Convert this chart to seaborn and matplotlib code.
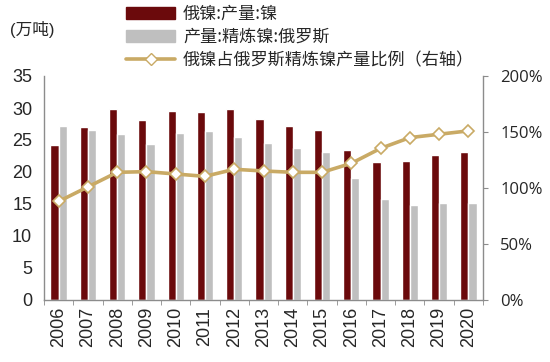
import matplotlib
matplotlib.use("Agg")
import matplotlib.pyplot as plt
import matplotlib.patches as mpatches
import matplotlib.lines as mlines
from matplotlib.ticker import FuncFormatter, MultipleLocator
import seaborn as sns
import pandas as pd
import numpy as np

# data
years = [str(y) for y in range(2006, 2021)]
nornickel_ni = [24.2, 27.0, 29.8, 28.1, 29.5, 29.3, 29.8, 28.3, 27.2, 26.5, 23.4, 21.6, 21.7, 22.7, 23.2]
russia_refined = [27.2, 26.5, 25.9, 24.3, 26.1, 26.4, 25.4, 24.5, 23.8, 23.1, 19.1, 15.8, 14.9, 15.2, 15.2]
share = [0.88, 1.01, 1.14, 1.146, 1.125, 1.104, 1.167, 1.152, 1.14, 1.14, 1.22, 1.354, 1.45, 1.48, 1.51]

name_a = "俄镍:产量:镍"
name_b = "产量:精炼镍:俄罗斯"
name_c = "俄镍占俄罗斯精炼镍产量比例（右轴）"

c_red = "#6B0A0C"
c_gray = "#BFBFBF"
c_gold = "#C9AA65"
c_spine = "#8C8C8C"

sns.set_style("white")
plt.rcParams["font.family"] = ["Liberation Sans", "Noto Sans CJK SC", "DejaVu Sans"]

df = pd.DataFrame({
    "year": years * 2,
    "value": nornickel_ni + russia_refined,
    "series": [name_a] * len(years) + [name_b] * len(years),
})

fig = plt.figure(figsize=(5.5, 3.62), dpi=100)
ax = fig.add_axes([44 / 550, 62 / 362, 439 / 550, 224 / 362])

sns.barplot(data=df, x="year", y="value", hue="series", palette=[c_red, c_gray],
            width=0.56, gap=0, ax=ax, legend=False, saturation=1)
ax.set_xlim(-0.5, len(years) - 0.5)
ax.set_ylim(0, 35)
ax.yaxis.set_major_locator(MultipleLocator(5))
ax.set_xlabel("")
ax.set_ylabel("")

# right axis share line
ax2 = ax.twinx()
sns.lineplot(x=np.arange(len(years)), y=share, ax=ax2, color=c_gold, linewidth=2.6,
             marker="D", markersize=6.5, markerfacecolor="white",
             markeredgecolor=c_gold, markeredgewidth=1.2)
ax2.set_ylim(0, 2.0)
ax2.yaxis.set_major_locator(MultipleLocator(0.5))
ax2.yaxis.set_major_formatter(FuncFormatter(lambda v, p: f"{v * 100:.0f}%"))

for a in (ax, ax2):
    for s in a.spines.values():
        s.set_visible(False)
ax.spines["left"].set_visible(True)
ax.spines["bottom"].set_visible(True)
ax2.spines["right"].set_visible(True)
for s in (ax.spines["left"], ax.spines["bottom"], ax2.spines["right"]):
    s.set_color(c_spine)
    s.set_linewidth(1.0)

# x ticks: labels at centers, tick marks at category borders
ax.set_xticks(np.arange(len(years)))
ax.set_xticklabels(years, rotation=90, fontsize=13)
ax.set_xticks(np.arange(-0.5, len(years)), minor=True)
ax.tick_params(axis="x", which="major", length=0, pad=5)
ax.tick_params(axis="x", which="minor", length=3.5, color=c_spine, direction="out", bottom=True)
ax.tick_params(axis="y", length=0, labelsize=13, pad=8.5, left=False)
ax2.tick_params(axis="y", length=3.5, color=c_spine, direction="out", right=True, pad=9)
for t in ax2.get_yticklabels():
    t.set_fontsize(12)
    t.set_family(["Open Sans", "DejaVu Sans"])

ax.set_zorder(1)
ax2.set_zorder(2)
ax2.patch.set_visible(False)

fig.text(10 / 550, 1 - 30 / 362, "(万吨)", fontsize=12, va="center",
         family=["Liberation Sans", "Noto Sans CJK SC"])

handles = [
    mpatches.Patch(color=c_red, label=name_a),
    mpatches.Patch(color=c_gray, label=name_b),
    mlines.Line2D([], [], color=c_gold, linewidth=2.6, marker="D", markersize=6,
                  markerfacecolor="white", markeredgecolor=c_gold, label=name_c),
]
leg = fig.legend(handles=handles, loc="upper left", bbox_to_anchor=(119 / 550, 1 + 2 / 362),
                 frameon=False, handlelength=2.9, handleheight=0.7,
                 handletextpad=0.45, labelspacing=0.3, borderaxespad=0,
                 prop={"family": ["Noto Sans CJK SC", "DejaVu Sans"], "size": 12.3})

fig.savefig("out.png", dpi=100)
